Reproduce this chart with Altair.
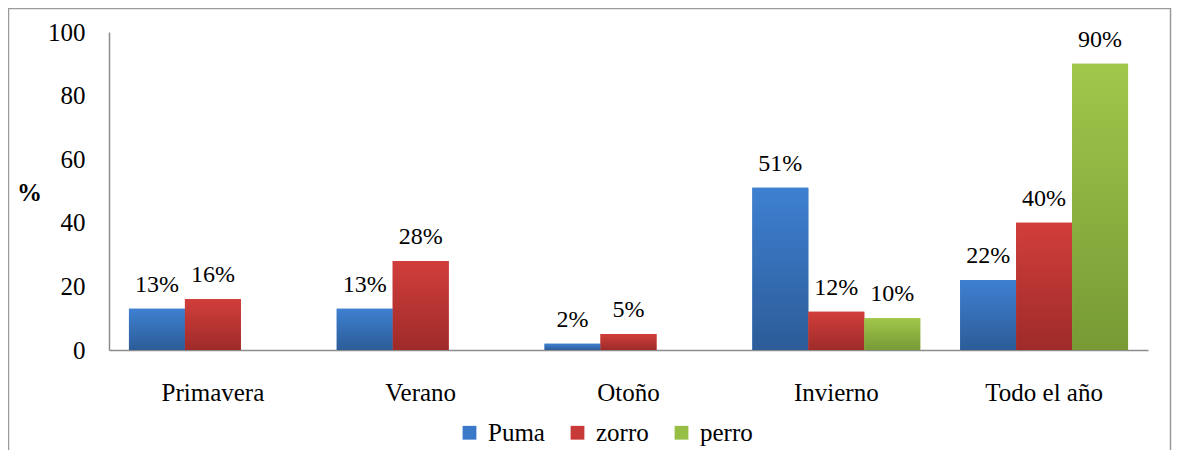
import altair as alt
import pandas as pd

categories = ["Primavera", "Verano", "Otoño", "Invierno", "Todo el año"]
series = ["Puma", "zorro", "perro"]
puma = [13, 13, 2, 51, 22]
zorro = [16, 28, 5, 12, 40]
perro = [None, None, None, 10, 90]
y_ticks = [0, 20, 40, 60, 80, 100]

rows = []
for i, c in enumerate(categories):
    for s, vals in zip(series, [puma, zorro, perro]):
        v = vals[i]
        if v is not None:
            rows.append({"cat": c, "serie": s, "val": v, "lbl": f"{v}%"})
df = pd.DataFrame(rows)

FONT = "Liberation Serif"
solid = ["#3a78c8", "#c83a37", "#98bf45"]
grads = {
    "Puma": ("#3e80d1", "#2c5c98"),
    "zorro": ("#d13e3b", "#9e2b29"),
    "perro": ("#a1c74b", "#779a35"),
}

x_enc = alt.X("cat:N", sort=categories, title=None,
              scale=alt.Scale(paddingInner=0.192, paddingOuter=0.096),
              axis=alt.Axis(labelAngle=0, labelFont=FONT, labelFontSize=25,
                            labelColor="#000", labelPadding=30, ticks=False,
                            domainColor="#8c8c8c", domainWidth=1.5))
xo_enc = alt.XOffset("serie:N", sort=series,
                     scale=alt.Scale(domain=series, paddingInner=0, paddingOuter=0))
y_enc = alt.Y("val:Q", title="%",
              scale=alt.Scale(domain=[0, 100]),
              axis=alt.Axis(values=y_ticks, grid=False, ticks=False,
                            labelFont=FONT, labelFontSize=25, labelColor="#000",
                            labelPadding=24, domainColor="#8c8c8c", domainWidth=1.5,
                            titleAngle=0, titleFont=FONT, titleFontSize=25,
                            titleFontWeight="bold", titleColor="#000",
                            titleX=-80, titleY=160, titleBaseline="middle",
                            titleAlign="center"))

base = alt.Chart(df)

legend_layer = base.mark_bar().encode(
    x=x_enc, xOffset=xo_enc, y=y_enc,
    color=alt.Color("serie:N", sort=series,
                    scale=alt.Scale(domain=series, range=solid),
                    legend=alt.Legend(title=None, orient="none", direction="horizontal",
                                      legendX=348, legendY=388,
                                      labelFont=FONT, labelFontSize=25, labelColor="#000",
                                      symbolType="square", symbolSize=190,
                                      symbolStrokeWidth=0, labelOffset=6,
                                      columnPadding=20)),
)

grad_layers = []
for s in series:
    top, bot = grads[s]
    g = alt.Gradient(gradient="linear", x1=0, y1=0, x2=0, y2=1,
                     stops=[alt.GradientStop(offset=0, color=top),
                            alt.GradientStop(offset=1, color=bot)])
    grad_layers.append(
        base.transform_filter(alt.datum.serie == s)
        .mark_bar(color=g)
        .encode(x=x_enc, xOffset=xo_enc, y=y_enc)
    )

labels = base.mark_text(font=FONT, fontSize=24, color="#000",
                        baseline="alphabetic", dy=-17).encode(
    x=x_enc, xOffset=xo_enc, y=y_enc, text="lbl:N")

border = alt.Chart(pd.DataFrame({"a": [0]})).mark_rect(
    fillOpacity=0, stroke="#9a9a9a", strokeWidth=1.5).encode(
    x=alt.value(-100.5), x2=alt.value(1061.5),
    y=alt.value(-23.5), y2=alt.value(520))

chart = alt.layer(border, legend_layer, *grad_layers, labels).properties(
    width=1039, height=318,
    autosize=alt.AutoSizeParams(type="none"),
    padding={"left": 101, "top": 24, "right": 24, "bottom": 100},
).configure(background="white", font=FONT).configure_view(stroke=None)

chart.save("out.html", embed_options={"renderer": "svg", "actions": False})
